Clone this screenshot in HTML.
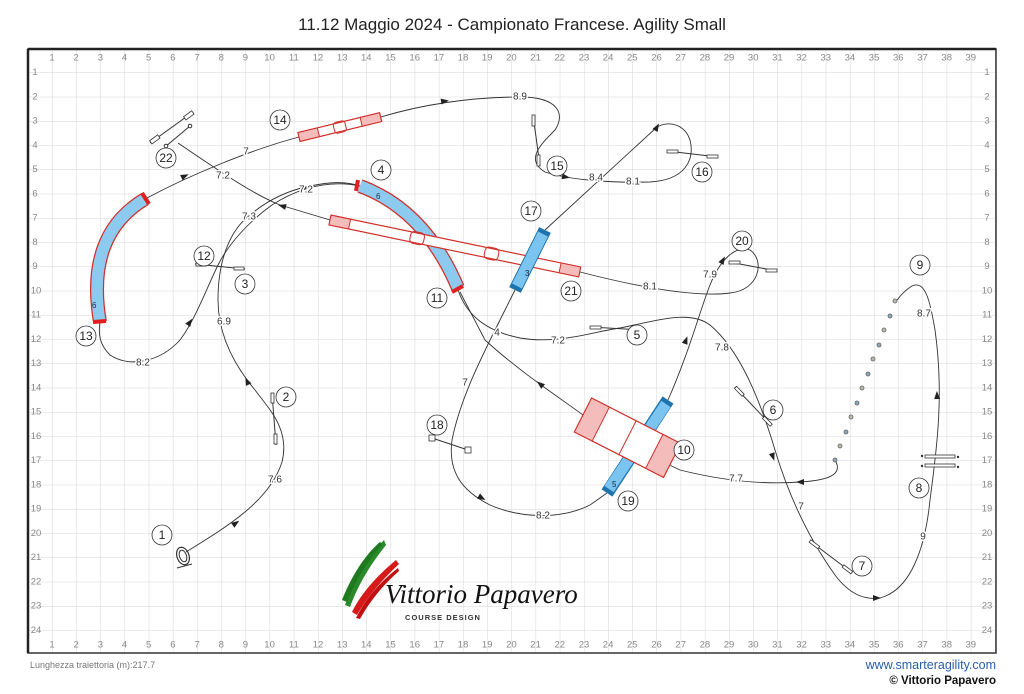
<!DOCTYPE html>
<html><head><meta charset="utf-8"><style>
html,body{margin:0;padding:0;background:#fff;}
svg{display:block;font-family:"Liberation Sans",sans-serif;}
.g{font-size:9.5px;fill:#888;text-anchor:middle;dominant-baseline:middle;}
.p{fill:none;stroke:#333;stroke-width:0.9;}
.n circle{fill:#fff;stroke:#333;stroke-width:0.8;}
.n text{font-size:12px;fill:#222;text-anchor:middle;dominant-baseline:central;}
.d{font-size:10px;fill:#333;text-anchor:middle;dominant-baseline:middle;paint-order:stroke;stroke:#fff;stroke-width:3px;}
.j line{stroke:#333;stroke-width:1;}
.j rect{fill:#fff;stroke:#333;stroke-width:0.8;}
.a{fill:#222;}
</style></head><body>
<svg width="1024" height="694" viewBox="0 0 1024 694">
<defs>
<pattern id="gr" patternUnits="userSpaceOnUse" x="52" y="72.5" width="24.18" height="24.25">
<path d="M0,0V24.25M0,0H24.18" stroke="#d6d6d6" stroke-width="1" fill="none"/>
</pattern>
<clipPath id="cl"><rect x="28" y="49" width="968" height="604"/></clipPath>
</defs>
<text x="512" y="30" font-size="17" text-anchor="middle" fill="#222">11.12 Maggio 2024 - Campionato Francese. Agility Small</text>
<rect x="28" y="49" width="968" height="604" fill="url(#gr)" clip-path="url(#cl)"/>
<rect x="28" y="49" width="968" height="604" fill="none" stroke="#333" stroke-width="1.5"/>
<line x1="28" y1="49" x2="996" y2="49" stroke="#222" stroke-width="2.5"/>
<line x1="28" y1="49" x2="28" y2="653" stroke="#222" stroke-width="2.5"/>
<g class="g">
<text x="52" y="58">1</text><text x="76.2" y="58">2</text><text x="100.4" y="58">3</text><text x="124.5" y="58">4</text><text x="148.7" y="58">5</text><text x="172.9" y="58">6</text><text x="197.1" y="58">7</text><text x="221.3" y="58">8</text><text x="245.4" y="58">9</text><text x="269.6" y="58">10</text><text x="293.8" y="58">11</text><text x="318" y="58">12</text><text x="342.2" y="58">13</text><text x="366.3" y="58">14</text><text x="390.5" y="58">15</text><text x="414.7" y="58">16</text><text x="438.9" y="58">17</text><text x="463.1" y="58">18</text><text x="487.2" y="58">19</text><text x="511.4" y="58">20</text><text x="535.6" y="58">21</text><text x="559.8" y="58">22</text><text x="584" y="58">23</text><text x="608.1" y="58">24</text><text x="632.3" y="58">25</text><text x="656.5" y="58">26</text><text x="680.7" y="58">27</text><text x="704.9" y="58">28</text><text x="729" y="58">29</text><text x="753.2" y="58">30</text><text x="777.4" y="58">31</text><text x="801.6" y="58">32</text><text x="825.8" y="58">33</text><text x="849.9" y="58">34</text><text x="874.1" y="58">35</text><text x="898.3" y="58">36</text><text x="922.5" y="58">37</text><text x="946.7" y="58">38</text><text x="970.8" y="58">39</text>
<text x="52" y="645">1</text><text x="76.2" y="645">2</text><text x="100.4" y="645">3</text><text x="124.5" y="645">4</text><text x="148.7" y="645">5</text><text x="172.9" y="645">6</text><text x="197.1" y="645">7</text><text x="221.3" y="645">8</text><text x="245.4" y="645">9</text><text x="269.6" y="645">10</text><text x="293.8" y="645">11</text><text x="318" y="645">12</text><text x="342.2" y="645">13</text><text x="366.3" y="645">14</text><text x="390.5" y="645">15</text><text x="414.7" y="645">16</text><text x="438.9" y="645">17</text><text x="463.1" y="645">18</text><text x="487.2" y="645">19</text><text x="511.4" y="645">20</text><text x="535.6" y="645">21</text><text x="559.8" y="645">22</text><text x="584" y="645">23</text><text x="608.1" y="645">24</text><text x="632.3" y="645">25</text><text x="656.5" y="645">26</text><text x="680.7" y="645">27</text><text x="704.9" y="645">28</text><text x="729" y="645">29</text><text x="753.2" y="645">30</text><text x="777.4" y="645">31</text><text x="801.6" y="645">32</text><text x="825.8" y="645">33</text><text x="849.9" y="645">34</text><text x="874.1" y="645">35</text><text x="898.3" y="645">36</text><text x="922.5" y="645">37</text><text x="946.7" y="645">38</text><text x="970.8" y="645">39</text>
<text x="35" y="72.5">1</text><text x="35" y="96.8">2</text><text x="35" y="121">3</text><text x="35" y="145.3">4</text><text x="35" y="169.5">5</text><text x="35" y="193.8">6</text><text x="35" y="218">7</text><text x="35" y="242.3">8</text><text x="35" y="266.5">9</text><text x="36" y="290.8">10</text><text x="36" y="315">11</text><text x="36" y="339.3">12</text><text x="36" y="363.5">13</text><text x="36" y="387.8">14</text><text x="36" y="412">15</text><text x="36" y="436.3">16</text><text x="36" y="460.5">17</text><text x="36" y="484.8">18</text><text x="36" y="509">19</text><text x="36" y="533.3">20</text><text x="36" y="557.5">21</text><text x="36" y="581.8">22</text><text x="36" y="606">23</text><text x="36" y="630.3">24</text>
<text x="987" y="72.5">1</text><text x="987" y="96.8">2</text><text x="987" y="121">3</text><text x="987" y="145.3">4</text><text x="987" y="169.5">5</text><text x="987" y="193.8">6</text><text x="987" y="218">7</text><text x="987" y="242.3">8</text><text x="987" y="266.5">9</text><text x="987" y="290.8">10</text><text x="987" y="315">11</text><text x="987" y="339.3">12</text><text x="987" y="363.5">13</text><text x="987" y="387.8">14</text><text x="987" y="412">15</text><text x="987" y="436.3">16</text><text x="987" y="460.5">17</text><text x="987" y="484.8">18</text><text x="987" y="509">19</text><text x="987" y="533.3">20</text><text x="987" y="557.5">21</text><text x="987" y="581.8">22</text><text x="987" y="606">23</text><text x="987" y="630.3">24</text>
</g>

<!-- logo -->
<g>
<path d="M345,605 C355,580 365,560 384,540 L386,545 C370,565 358,585 350,607 Z" fill="#2a8a2a"/>
<path d="M342,600 C352,575 365,555 380,542 L383,544 C368,560 356,580 347,602 Z" fill="#1f7a1f"/>
<path d="M352,612 C362,592 378,575 396,560 L399,564 C382,580 368,596 357,615 Z" fill="#d61a1a"/>
<path d="M356,618 C366,598 380,582 398,568 L399,571 C383,585 370,601 360,619 Z" fill="#c01010"/>
<text x="385" y="603" font-family="'Liberation Serif',serif" font-style="italic" font-size="27" fill="#111">Vittorio Papavero</text>
<text x="443" y="620" font-size="7.5" font-weight="bold" fill="#333" text-anchor="middle" letter-spacing="1">COURSE DESIGN</text>
</g>

<!-- paths -->
<g class="p">
<path d="M186,552 C230,525 270,500 282,462 C290,430 270,410 255,390 C230,360 218,330 218,300 C218,260 230,230 250,215 C270,198 290,190 310,186 C330,182 345,181 360,186"/>
<path d="M458,290 C465,310 480,330 520,338 C560,345 600,330 620,328 C660,320 690,310 710,325 C740,350 760,400 775,450 C790,500 810,540 835,575 C850,595 865,600 880,598 C910,590 925,550 930,500 C935,460 945,400 935,330 C930,300 925,280 912,286 C902,292 897,300 895,303"/>
<path d="M835,460 C842,472 835,480 800,482 C760,485 720,480 680,470 L663,462"/>
<path d="M583,415 C560,398 520,372 485,340 L460,292"/>
<path d="M360,186 C330,180 300,187 272,205 C248,222 228,245 218,265 C205,292 195,320 180,340 C160,362 130,368 110,355 C100,345 98,335 100,322"/>
<path d="M145,199 C190,175 250,150 299,137"/>
<path d="M381,117 C420,105 470,97 520,97 C560,97 565,115 555,130 C540,145 525,160 545,172 C570,180 610,183 650,182 C685,180 695,160 690,140 C685,125 670,120 657,127 L545,230"/>
<path d="M515,290 L500,320 C480,360 460,400 452,440 C448,470 460,490 490,505 C520,518 560,520 590,505 L607,493"/>
<path d="M668,400 C690,350 700,310 710,285 C720,260 735,245 750,250 C765,260 760,290 730,293 C700,297 650,290 580,272"/>
<path d="M330,220 L280,205 C255,195 225,175 178,143"/>
</g>
<!-- arrows -->
<g class="a">
<polygon points="-4,-3 4,0 -4,3" transform="translate(236,523) rotate(-35)"/>
<polygon points="-4,-3 4,0 -4,3" transform="translate(247,381) rotate(-115)"/>
<polygon points="-4,-3 4,0 -4,3" transform="translate(304,188) rotate(-20)"/>
<polygon points="-4,-3 4,0 -4,3" transform="translate(282,206) rotate(195)"/>
<polygon points="-4,-3 4,0 -4,3" transform="translate(190,322) rotate(-55)"/>
<polygon points="-4,-3 4,0 -4,3" transform="translate(185,176) rotate(-25)"/>
<polygon points="-4,-3 4,0 -4,3" transform="translate(445,101) rotate(-8)"/>
<polygon points="-4,-3 4,0 -4,3" transform="translate(566,177) rotate(10)"/>
<polygon points="-4,-3 4,0 -4,3" transform="translate(657,127) rotate(-60)"/>
<polygon points="-4,-3 4,0 -4,3" transform="translate(482,498) rotate(30)"/>
<polygon points="-4,-3 4,0 -4,3" transform="translate(686,340) rotate(-70)"/>
<polygon points="-4,-3 4,0 -4,3" transform="translate(540,384) rotate(-140)"/>
<polygon points="-4,-3 4,0 -4,3" transform="translate(773,457) rotate(72)"/>
<polygon points="-4,-3 4,0 -4,3" transform="translate(877,598) rotate(0)"/>
<polygon points="-4,-3 4,0 -4,3" transform="translate(937,395) rotate(-92)"/>
<polygon points="-4,-3 4,0 -4,3" transform="translate(800,482) rotate(180)"/>
<polygon points="-4,-3 4,0 -4,3" transform="translate(723,260) rotate(-60)"/>
</g>
<!-- distances -->
<g class="d">
<text x="275" y="480">7.6</text><text x="224" y="322">6.9</text><text x="249" y="217">7.3</text><text x="306" y="190">7.2</text>
<text x="558" y="341">7.2</text><text x="722" y="348">7.8</text><text x="801" y="507">7</text><text x="923" y="537">9</text>
<text x="924" y="314">8.7</text><text x="736" y="479">7.7</text><text x="143" y="363">8.2</text><text x="246" y="152">7</text>
<text x="520" y="97">8.9</text><text x="596" y="178">8.4</text><text x="633" y="182">8.1</text><text x="497" y="333">4</text>
<text x="465" y="383">7</text><text x="543" y="516">8.2</text><text x="710" y="275">7.9</text><text x="650" y="287">8.1</text><text x="223" y="176">7.2</text>
</g>

<!-- curved tunnels -->
<path d="M360,186 Q425,210 458,288" fill="none" stroke="#d0302a" stroke-width="14"/>
<path d="M360,186 Q425,210 458,288" fill="none" stroke="#8ccaf0" stroke-width="11.5"/>
<line x1="358" y1="180" x2="356" y2="191" stroke="#e02020" stroke-width="4"/>
<line x1="452" y1="292" x2="463" y2="286" stroke="#e02020" stroke-width="4"/>
<text x="376" y="199" font-size="8" fill="#234">6</text>
<path d="M145,199 Q85,235 100,322" fill="none" stroke="#d0302a" stroke-width="14"/>
<path d="M145,199 Q85,235 100,322" fill="none" stroke="#8ccaf0" stroke-width="11.5"/>
<line x1="142" y1="193" x2="149" y2="204" stroke="#e02020" stroke-width="4"/>
<line x1="93" y1="322" x2="106" y2="321" stroke="#e02020" stroke-width="4"/>
<text x="92" y="308" font-size="8" fill="#234">6</text>

<!-- dogwalk 21 -->
<g transform="translate(330,220) rotate(11.75)">
<rect x="0" y="-5" width="255" height="10" fill="#fff" stroke="#d0302a" stroke-width="1.2"/>
<rect x="0" y="-5" width="20" height="10" fill="#f5bcbc" stroke="#d0302a" stroke-width="1"/>
<rect x="235" y="-5" width="20" height="10" fill="#f5bcbc" stroke="#d0302a" stroke-width="1"/>
<rect x="82" y="-6" width="14" height="12" rx="4" fill="none" stroke="#d0302a" stroke-width="1"/>
<rect x="158" y="-6" width="14" height="12" rx="4" fill="none" stroke="#d0302a" stroke-width="1"/>
</g>
<!-- dogwalk 14 -->
<g transform="translate(299,137) rotate(-13.7)">
<rect x="0" y="-4.5" width="84" height="9" fill="#fff" stroke="#d0302a" stroke-width="1.2"/>
<rect x="0" y="-4.5" width="20" height="9" fill="#f5bcbc" stroke="#d0302a" stroke-width="1"/>
<rect x="64" y="-4.5" width="20" height="9" fill="#f5bcbc" stroke="#d0302a" stroke-width="1"/>
<rect x="36" y="-5.5" width="12" height="11" rx="3" fill="none" stroke="#d0302a" stroke-width="1"/>
</g>

<!-- straight tunnels -->
<line x1="545" y1="230" x2="515" y2="290" stroke="#1d74ad" stroke-width="13"/>
<line x1="543" y1="234" x2="517" y2="286" stroke="#7cc4f0" stroke-width="11"/>
<text x="525" y="276" font-size="8" fill="#123">3</text>
<line x1="668" y1="400" x2="607" y2="493" stroke="#1d74ad" stroke-width="13"/>
<line x1="666" y1="404" x2="609" y2="489" stroke="#7cc4f0" stroke-width="11"/>
<text x="612" y="487" font-size="8" fill="#123">5</text>

<!-- A-frame 10 -->
<g transform="translate(583,415) rotate(27)">
<rect x="0" y="-19" width="100" height="38" fill="#fff" stroke="#d0302a" stroke-width="1.2"/>
<rect x="0" y="-19" width="20" height="38" fill="#f5bcbc" stroke="#d0302a" stroke-width="1"/>
<rect x="80" y="-19" width="20" height="38" fill="#f5bcbc" stroke="#d0302a" stroke-width="1"/>
<line x1="50" y1="-19" x2="50" y2="19" stroke="#d0302a" stroke-width="1"/>
</g>

<!-- jumps -->
<g class="j">
<line x1="150" y1="143" x2="193" y2="112"/><rect x="-4" y="-2" width="10" height="4" transform="translate(154,140) rotate(-36)"/><rect x="-4" y="-2" width="10" height="4" transform="translate(188,116) rotate(-36)"/>
<line x1="165" y1="147" x2="190" y2="126"/><circle cx="190" cy="126" r="1.8" fill="#fff" stroke="#333"/><circle cx="166" cy="146" r="1.8" fill="#fff" stroke="#333"/>
<line x1="195" y1="264" x2="245" y2="269"/><rect x="196" y="263" width="10" height="3"/><rect x="234" y="267" width="10" height="3"/>
<line x1="272" y1="393" x2="276" y2="445"/><rect x="271" y="393" width="3" height="10"/><rect x="274" y="434" width="3" height="10"/>
<line x1="533" y1="115" x2="540" y2="166"/><rect x="532" y="115" width="3" height="11"/><rect x="537" y="155" width="3" height="11"/>
<line x1="667" y1="151" x2="718" y2="157"/><rect x="667" y="150" width="11" height="3"/><rect x="707" y="155" width="11" height="3"/>
<line x1="729" y1="262" x2="777" y2="271"/><rect x="729" y="261" width="11" height="3"/><rect x="766" y="269" width="11" height="3"/>
<line x1="590" y1="327" x2="642" y2="330"/><rect x="590" y="326" width="11" height="3"/><rect x="631" y="329" width="11" height="3"/>
<line x1="735" y1="387" x2="771" y2="425"/><rect x="-5" y="-1.5" width="11" height="3" transform="translate(739,391) rotate(46)"/><rect x="-5" y="-1.5" width="11" height="3" transform="translate(767,421) rotate(46)"/>
<line x1="810" y1="541" x2="851" y2="572"/><rect x="-5" y="-1.5" width="11" height="3" transform="translate(814,544) rotate(37)"/><rect x="-5" y="-1.5" width="11" height="3" transform="translate(847,569) rotate(37)"/>
<rect x="925" y="455" width="30" height="3"/><rect x="925" y="464" width="30" height="3"/>
<circle cx="922" cy="456" r="1.2" fill="#333"/><circle cx="922" cy="466" r="1.2" fill="#333"/><circle cx="958" cy="457" r="1.2" fill="#333"/><circle cx="958" cy="467" r="1.2" fill="#333"/>
<line x1="432" y1="438" x2="468" y2="450"/><rect x="429" y="435" width="6" height="6" fill="#9c9" stroke="#333"/><rect x="465" y="447" width="6" height="6" fill="#9c9" stroke="#333"/>
</g>
<!-- tire -->
<ellipse cx="183" cy="556" rx="6" ry="9" fill="none" stroke="#333" stroke-width="1.2" transform="rotate(-20 183 556)"/>
<ellipse cx="183" cy="556" rx="3.5" ry="6" fill="none" stroke="#333" stroke-width="1" transform="rotate(-20 183 556)"/>
<line x1="177" y1="568" x2="192" y2="564" stroke="#333" stroke-width="1"/>
<!-- weaves -->
<g stroke="#666" stroke-width="0.8">
<circle cx="835" cy="460" r="2" fill="#8ab"/><circle cx="840" cy="446" r="2" fill="#bba"/><circle cx="846" cy="432" r="2" fill="#8ab"/><circle cx="851" cy="417" r="2" fill="#bba"/><circle cx="857" cy="403" r="2" fill="#8ab"/><circle cx="862" cy="388" r="2" fill="#bba"/><circle cx="868" cy="374" r="2" fill="#8ab"/><circle cx="873" cy="359" r="2" fill="#bba"/><circle cx="879" cy="345" r="2" fill="#8ab"/><circle cx="884" cy="330" r="2" fill="#bba"/><circle cx="890" cy="316" r="2" fill="#8ab"/><circle cx="895" cy="301" r="2" fill="#bba"/>
</g>

<!-- numbers -->
<g class="n">
<circle cx="162" cy="535" r="10"/><text x="162" y="535">1</text>
<circle cx="286" cy="397" r="10"/><text x="286" y="397">2</text>
<circle cx="245" cy="284" r="10"/><text x="245" y="284">3</text>
<circle cx="381" cy="170" r="10"/><text x="381" y="170">4</text>
<circle cx="637" cy="335" r="10"/><text x="637" y="335">5</text>
<circle cx="773" cy="410" r="10"/><text x="773" y="410">6</text>
<circle cx="862" cy="566" r="10"/><text x="862" y="566">7</text>
<circle cx="919" cy="488" r="10"/><text x="919" y="488">8</text>
<circle cx="920" cy="265" r="10"/><text x="920" y="265">9</text>
<circle cx="684" cy="450" r="10"/><text x="684" y="450">10</text>
<circle cx="437" cy="298" r="10"/><text x="437" y="298">11</text>
<circle cx="204" cy="256" r="10"/><text x="204" y="256">12</text>
<circle cx="86" cy="336" r="10"/><text x="86" y="336">13</text>
<circle cx="280" cy="120" r="10"/><text x="280" y="120">14</text>
<circle cx="557" cy="166" r="10"/><text x="557" y="166">15</text>
<circle cx="702" cy="172" r="10"/><text x="702" y="172">16</text>
<circle cx="531" cy="211" r="10"/><text x="531" y="211">17</text>
<circle cx="437" cy="425" r="10"/><text x="437" y="425">18</text>
<circle cx="628" cy="501" r="10"/><text x="628" y="501">19</text>
<circle cx="742" cy="241" r="10"/><text x="742" y="241">20</text>
<circle cx="571" cy="291" r="10"/><text x="571" y="291">21</text>
<circle cx="166" cy="158" r="10"/><text x="166" y="158">22</text>
</g>

<text x="30" y="668" font-size="9" fill="#777">Lunghezza traiettoria (m):217.7</text>
<text x="996" y="669" font-size="12.5" fill="#2a5db0" text-anchor="end">www.smarteragility.com</text>
<text x="996" y="684" font-size="11.5" font-weight="bold" fill="#111" text-anchor="end">© Vittorio Papavero</text>
</svg>
</body></html>
